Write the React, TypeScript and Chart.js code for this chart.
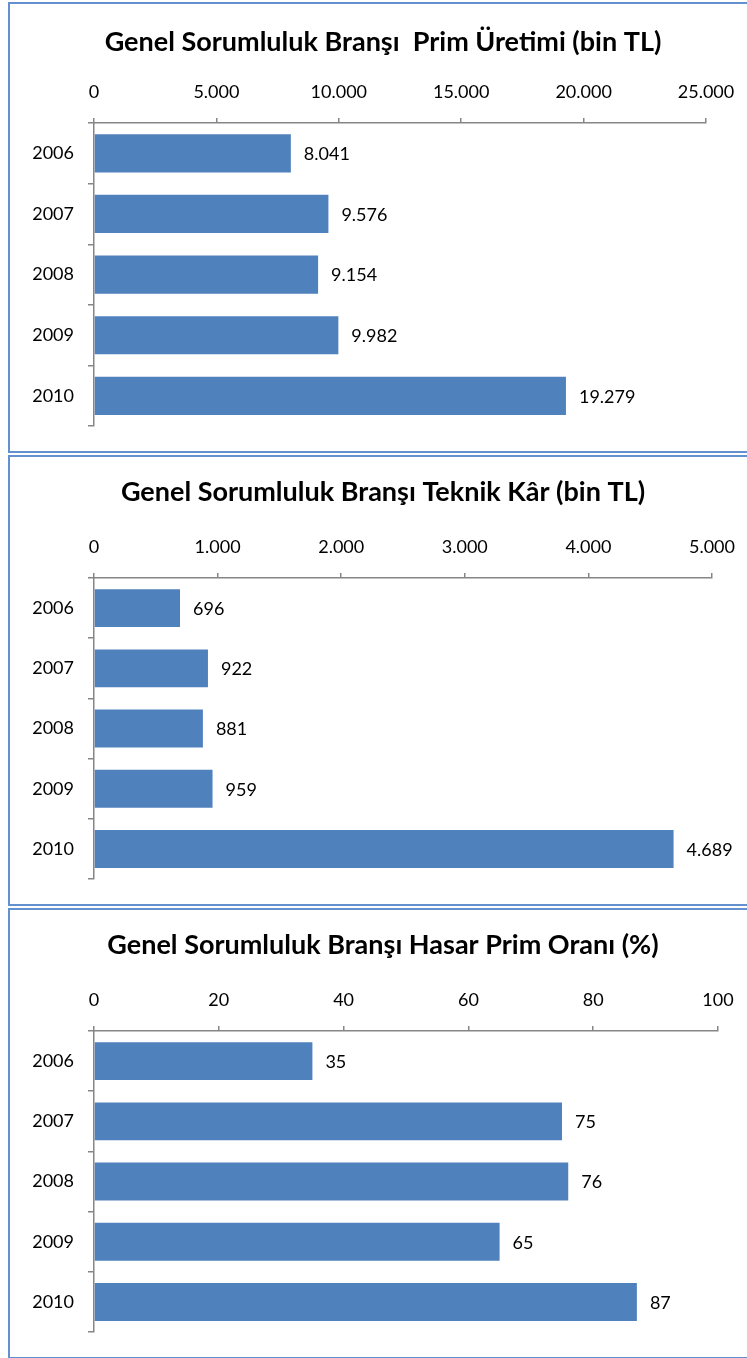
import React, { useEffect, useRef } from "react";
import { Chart, registerables } from "chart.js";

Chart.register(...registerables);

const years = ["2006", "2007", "2008", "2009", "2010"];
const primValues = [8041, 9576, 9154, 9982, 19279];
const karValues = [696, 922, 881, 959, 4689];
const oranValues = [35, 75, 76, 65, 87];

const primTitle = "Genel Sorumluluk Branşı  Prim Üretimi (bin TL)";
const karTitle = "Genel Sorumluluk Branşı Teknik Kâr (bin TL)";
const oranTitle = "Genel Sorumluluk Branşı Hasar Prim Oranı (%)";

const primAxis = { max: 25000, step: 5000 };
const karAxis = { max: 5000, step: 1000 };
const oranAxis = { max: 100, step: 20 };

const FONT = "Lato";
const BAR = "#4f81bd";
const AXIS = "#868686";

function fmt(n: number): string {
  return String(Math.round(n)).replace(/\B(?=(\d{3})+(?!\d))/g, ".");
}

const valueLabels = {
  id: "valueLabels",
  afterDatasetsDraw(chart: any) {
    const ctx = chart.ctx;
    ctx.save();
    ctx.font = `18px ${FONT}`;
    ctx.fillStyle = "#000";
    ctx.textAlign = "left";
    ctx.textBaseline = "middle";
    chart.data.datasets.forEach((ds: any, di: number) => {
      const meta = chart.getDatasetMeta(di);
      meta.data.forEach((bar: any, i: number) => {
        ctx.fillText(fmt(ds.data[i]), bar.x + 13, bar.y + 1);
      });
    });
    ctx.restore();
  },
};

type PanelProps = {
  values: number[];
  title: string;
  axis: { max: number; step: number };
  rightPad: number;
  titleTop: number;
  xAxisHeight: number;
  bottomPad: number;
  top: number;
};

const W = 746;
const H = 447;

function Panel(p: PanelProps) {
  const ref = useRef<HTMLCanvasElement>(null);
  useEffect(() => {
    if (!ref.current) return;
    const chart = new Chart(ref.current, {
      type: "bar",
      data: {
        labels: years,
        datasets: [
          {
            data: p.values,
            backgroundColor: BAR,
            borderWidth: 0,
            barPercentage: 0.63,
            categoryPercentage: 1,
            yAxisID: "y",
            xAxisID: "x",
          },
        ],
      },
      options: {
        indexAxis: "y",
        responsive: false,
        animation: false,
        layout: { padding: { left: 0, top: 0, right: 0, bottom: p.bottomPad } },
        plugins: {
          legend: { display: false },
          tooltip: { enabled: false },
          title: {
            display: true,
            text: p.title,
            color: "#000",
            font: { family: FONT, weight: "bold", size: 27, lineHeight: 1.2 },
            padding: { top: p.titleTop, bottom: 0 },
          },
        },
        scales: {
          x: {
            position: "top",
            min: 0,
            max: p.axis.max,
            afterFit: (s: any) => {
              s.height = p.xAxisHeight;
            },
            ticks: {
              stepSize: p.axis.step,
              padding: 15,
              color: "#000",
              font: { family: FONT, size: 18, lineHeight: 1.2 },
              maxRotation: 0,
              callback: (v: any) => fmt(Number(v)),
            },
            grid: { drawOnChartArea: false, tickLength: 5, color: AXIS, lineWidth: 1.5 },
            border: { display: true, color: AXIS, width: 1.5 },
          },
          y: {
            afterFit: (s: any) => {
              s.width = 84;
            },
            ticks: {
              padding: 14,
              color: "#000",
              font: { family: FONT, size: 18, lineHeight: 1.2 },
            },
            grid: { offset: true, drawOnChartArea: false, tickLength: 6, color: AXIS, lineWidth: 1.5 },
            border: { display: true, color: AXIS, width: 1.5 },
          },
          spacer: {
            type: "linear",
            position: "right",
            display: true,
            afterFit: (s: any) => {
              s.width = p.rightPad;
            },
            ticks: { display: false },
            grid: { display: false },
            border: { display: false },
          },
        },
      },
      plugins: [valueLabels],
    } as any);
    return () => chart.destroy();
  }, []);
  return (
    <div
      style={{
        position: "absolute",
        left: 8,
        top: p.top,
        width: W,
        height: H,
        border: "2px solid #6390cf",
        background: "#fff",
      }}
    >
      <canvas ref={ref} width={W} height={H} style={{ display: "block" }} />
    </div>
  );
}

export default function App() {
  return (
    <div
      style={{
        position: "fixed",
        left: 0,
        top: 0,
        width: 747,
        height: 1358,
        overflow: "hidden",
        background: "#fff",
      }}
    >
      <Panel values={primValues} title={primTitle} axis={primAxis} rightPad={50} titleTop={22} xAxisHeight={64.6} bottomPad={23} top={2} />
      <Panel values={karValues} title={karTitle} axis={karAxis} rightPad={44} titleTop={19} xAxisHeight={69.6} bottomPad={21} top={455} />
      <Panel values={oranValues} title={oranTitle} axis={oranAxis} rightPad={38} titleTop={19} xAxisHeight={69.6} bottomPad={20} top={908} />
    </div>
  );
}
